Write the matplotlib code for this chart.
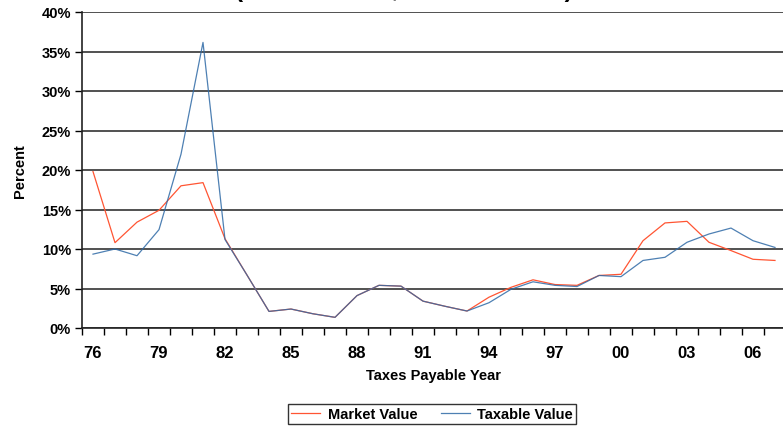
import matplotlib
matplotlib.use("Agg")
import matplotlib.pyplot as plt
from matplotlib.ticker import FixedLocator, PercentFormatter

# annual percent change, taxes payable years 1976-2007
years = list(range(1976, 2008))
market_value = [19.8, 10.8, 13.4, 14.9, 18.0, 18.4, 11.3, 6.7, 2.1, 2.4,
                1.8, 1.35, 4.1, 5.4, 5.3, 3.4, 2.75, 2.15, 3.9, 5.15,
                6.1, 5.5, 5.4, 6.65, 6.8, 11.05, 13.3, 13.5, 10.85, 9.8,
                8.7, 8.55]
taxable_value = [9.35, 10.0, 9.15, 12.45, 22.0, 36.15, 11.2, 6.7, 2.1, 2.4,
                 1.8, 1.35, 4.1, 5.4, 5.3, 3.4, 2.75, 2.15, 3.2, 4.9,
                 5.85, 5.4, 5.25, 6.65, 6.5, 8.55, 8.95, 10.85, 11.9, 12.65,
                 11.05, 10.2]
year_labels = [f"{y % 100:02d}" for y in years]

plt.rcParams["font.family"] = ["Liberation Sans", "DejaVu Sans"]
plt.rcParams["font.weight"] = "bold"

fig = plt.figure(figsize=(7.83, 4.27), dpi=100)
ax = fig.add_axes([82 / 783, 98 / 427, 704 / 783, 316 / 427])

xs = list(range(len(years)))
ax.plot(xs, market_value, color="#FF5533", lw=0.9, label="Market Value")
ax.plot(xs, taxable_value, color="#2F6AA6", lw=0.9, alpha=0.85, label="Taxable Value")

ax.set_xlim(-0.5, len(years) - 0.5)
ax.set_ylim(0, 40)

ax.yaxis.set_major_locator(FixedLocator(range(0, 41, 5)))
ax.yaxis.set_major_formatter(PercentFormatter(decimals=0))
ax.grid(axis="y", color="#222222", lw=1.1)
ax.set_axisbelow(True)

label_pos = xs[::3]
ax.set_xticks(label_pos)
ax.set_xticklabels(year_labels[::3], fontsize=12, fontweight="bold")
ax.set_xticks([x - 0.5 for x in xs] + [xs[-1] + 0.5], minor=True)
ax.tick_params(axis="x", which="major", length=0, pad=12)
ax.tick_params(axis="x", which="minor", length=5, width=1, direction="out")
ax.tick_params(axis="y", length=5, width=1, labelsize=10.5, pad=3)
for lab in ax.get_yticklabels():
    lab.set_fontweight("bold")

for side in ("top", "right"):
    ax.spines[side].set_visible(False)
for side in ("left", "bottom"):
    ax.spines[side].set_linewidth(1.2)
    ax.spines[side].set_color("#222222")

ax.set_xlabel("Taxes Payable Year", fontsize=10.5, fontweight="bold", labelpad=6)
ax.set_ylabel("Percent", fontsize=10.5, fontweight="bold", labelpad=10)

leg = fig.legend(loc="lower center", bbox_to_anchor=(432 / 783, -0.012), ncol=2,
                 fontsize=10.5, frameon=True, fancybox=False, handlelength=2.0,
                 columnspacing=1.6, borderpad=0.2, handletextpad=0.5)
leg.get_frame().set_edgecolor("black")
leg.get_frame().set_linewidth(1.0)
for t in leg.get_texts():
    t.set_fontweight("bold")

fig.text(404 / 783, 1 + 3 / 427, "(Market Value, Taxable Value)", ha="center",
         va="baseline", fontsize=17.5, fontweight="bold")

fig.savefig("out.png", dpi=100)
